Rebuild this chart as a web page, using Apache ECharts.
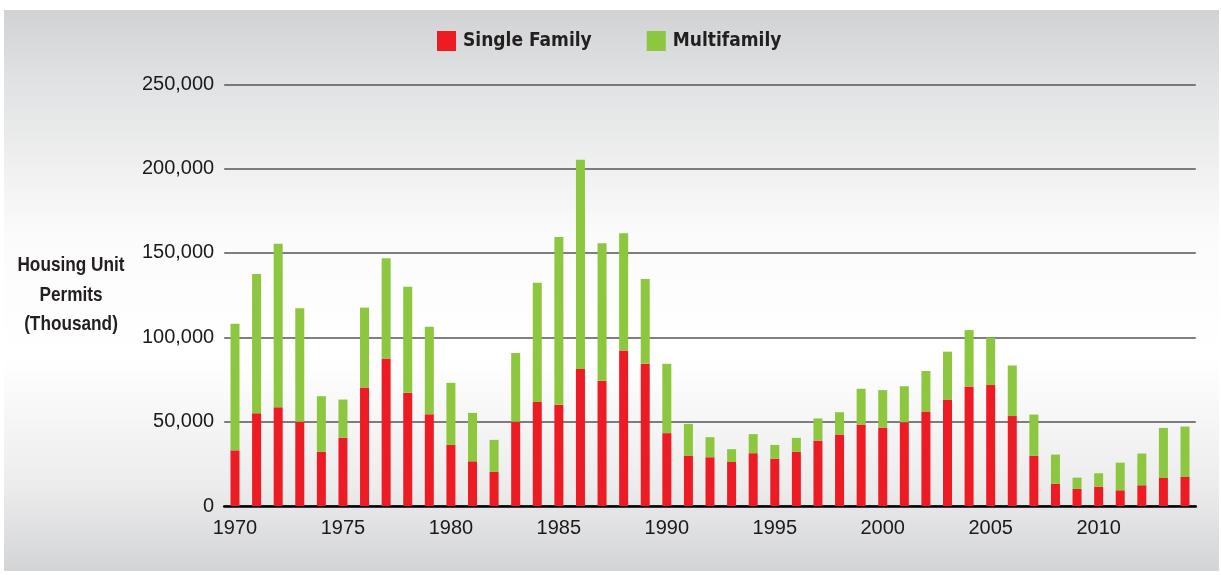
<!DOCTYPE html>
<html>
<head>
<meta charset="utf-8">
<script src="https://cdn.jsdelivr.net/npm/echarts@6/dist/echarts.min.js"></script>
<style>
html,body{margin:0;padding:0;background:#fff;}
#c{width:1221px;height:575px;}
</style>
</head>
<body>
<div id="c"></div>
<script>
const years = [];
for (let y = 1970; y <= 2014; y++) years.push(String(y));
const singleFamily = [33000,55000,58600,50000,32100,40400,70300,87500,67100,54400,
  36200,26500,20200,50000,61600,60000,81200,74200,92200,84300,
  43200,29900,28900,26100,31300,28100,32100,38800,42400,48300,
  46500,49700,56000,63100,70900,71700,53300,29700,13100,10100,
  11500,9300,12300,16600,17200];
const multifamily = [75000,82500,96900,67200,33000,22700,47300,59400,62900,51900,
  36800,28700,19000,40700,70800,99500,124100,81600,69500,50300,
  41100,18800,11900,7600,11300,8100,8300,13100,13200,21200,
  22200,21300,24000,28400,33400,28100,30000,24500,17400,6700,
  7900,16400,18800,29700,29900];
const yTicks = [0, 50000, 100000, 150000, 200000, 250000];

const chart = echarts.init(document.getElementById('c'), null, {renderer:'canvas'});
const cond = "'DejaVu Sans Condensed', 'Liberation Sans', sans-serif";
const reg = "'Liberation Sans', Arial, sans-serif";
chart.setOption({
  animation:false,
  graphic:[
    {type:'rect', z:-10, silent:true,
     shape:{x:4,y:10,width:1215,height:561},
     style:{fill:new echarts.graphic.LinearGradient(0,0,0,1,[
       {offset:0,color:'#d1d2d4'},
       {offset:0.12,color:'#e0e1e2'},
       {offset:0.4,color:'#fbfbfb'},
       {offset:0.62,color:'#ffffff'},
       {offset:0.85,color:'#ececed'},
       {offset:1,color:'#d3d4d6'}])}},
    {type:'text', x:71, y:295, scaleX:0.82, z:10,
     style:{text:'Housing Unit\nPermits\n(Thousand)', fill:'#231f20',
       font:"bold 21px " + reg, align:'center', verticalAlign:'middle', lineHeight:29.5}}
  ],
  legend:{
    top:31, left:437, padding:0,
    itemWidth:19, itemHeight:20, itemGap:55,
    icon:'rect',
    textStyle:{fontFamily:cond, fontSize:19, fontWeight:'bold', color:'#231f20', padding:[0,0,0,2]},
    data:['Single Family','Multifamily']
  },
  grid:{left:224.2, right:25.2, top:84.3, bottom:69, containLabel:false},
  xAxis:{
    type:'category', data:years, boundaryGap:true,
    axisLine:{lineStyle:{color:'#000', width:2.5}},
    axisTick:{show:false},
    axisLabel:{interval:4, margin:12, fontFamily:reg, fontSize:20, color:'#1a1a1a'}
  },
  yAxis:{
    type:'value', min:0, max:250000, interval:50000,
    axisLine:{show:false}, axisTick:{show:false},
    splitLine:{lineStyle:{color:'#555', width:1.5}},
    axisLabel:{margin:10, fontFamily:reg, fontSize:20, color:'#1a1a1a',
      formatter:v => v.toLocaleString('en-US')}
  },
  series:[
    {name:'Single Family', type:'bar', stack:'t', data:singleFamily, barWidth:9,
     itemStyle:{color:'#ed1c24'}},
    {name:'Multifamily', type:'bar', stack:'t', data:multifamily, barWidth:9,
     itemStyle:{color:'#8dc63f'}}
  ]
});
</script>
</body>
</html>
